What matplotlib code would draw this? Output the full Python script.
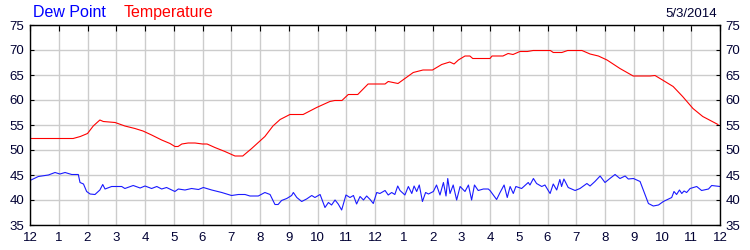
import matplotlib
matplotlib.use('Agg')
import matplotlib.pyplot as plt

# hours since midnight and temperature readings (F)
temp_hours = [0, 1.5, 1.75, 2.0, 2.2, 2.43, 2.55, 2.96, 3.3, 3.65, 3.93, 4.23, 4.58, 4.87,
              5.04, 5.15, 5.28, 5.5, 5.74, 6.0, 6.16, 6.43, 6.78, 7.13, 7.4, 7.71, 8.17,
              8.45, 8.7, 9.04, 9.5, 9.97, 10.43, 10.6, 10.85, 11.07, 11.4, 11.76, 12.35,
              12.46, 12.8, 13.33, 13.67, 14.0, 14.32, 14.6, 14.75, 14.9, 15.13, 15.3, 15.4,
              16.0, 16.07, 16.45, 16.63, 16.8, 17.04, 17.3, 17.5, 18.1, 18.2, 18.5, 18.7,
              19.2, 19.48, 19.77, 20.07, 20.52, 20.98, 21.57, 21.74, 22.0, 22.37, 22.7,
              23.06, 23.4, 23.93]
temp_vals = [52.3, 52.3, 52.7, 53.3, 54.8, 56.0, 55.7, 55.5, 54.8, 54.3, 53.8, 53.0, 52.0, 51.3,
             50.7, 50.7, 51.2, 51.4, 51.4, 51.2, 51.2, 50.5, 49.7, 48.8, 48.8, 50.3, 52.7,
             54.8, 56.1, 57.1, 57.1, 58.5, 59.7, 59.9, 59.9, 61.1, 61.1, 63.2, 63.2,
             63.7, 63.3, 65.5, 66.0, 66.0, 67.1, 67.6, 67.2, 68.0, 68.8, 68.8, 68.3,
             68.3, 68.8, 68.8, 69.3, 69.1, 69.7, 69.7, 69.9, 69.9, 69.5, 69.5, 69.9,
             69.9, 69.2, 68.8, 68.0, 66.3, 64.8, 64.8, 64.9, 64.0, 62.7, 60.7,
             58.3, 56.7, 55.1]

# dew point readings
dew_hours = [0, 0.29, 0.64, 0.87, 1.04, 1.22, 1.45, 1.68, 1.74, 1.86, 1.97, 2.09, 2.26, 2.43,
             2.53, 2.61, 2.84, 3.19, 3.3, 3.59, 3.83, 4.0, 4.23, 4.41, 4.58, 4.75, 4.93,
             5.04, 5.16, 5.39, 5.62, 5.86, 6.03, 6.32, 6.67, 7.01, 7.25, 7.48, 7.65, 7.94,
             8.17, 8.35, 8.52, 8.63, 8.75, 8.93, 9.1, 9.16, 9.28, 9.45, 9.62, 9.8, 9.91,
             10.09, 10.26, 10.38, 10.49, 10.61, 10.72, 10.84, 10.99, 11.13, 11.25, 11.36,
             11.48, 11.6, 11.71, 11.83, 11.94, 12.06, 12.17, 12.35, 12.46, 12.58, 12.69,
             12.79, 12.87, 13.04, 13.16, 13.28, 13.36, 13.45, 13.54, 13.65, 13.76, 13.86,
             14.03, 14.14, 14.26, 14.38, 14.47, 14.53, 14.61, 14.72, 14.84, 14.96, 15.13,
             15.25, 15.36, 15.46, 15.59, 15.77, 15.94, 16.0, 16.23, 16.35, 16.49, 16.6,
             16.7, 16.81, 16.9, 17.1, 17.33, 17.39, 17.51, 17.62, 17.8, 17.91, 18.09,
             18.2, 18.32, 18.43, 18.49, 18.57, 18.72, 18.96, 19.13, 19.37, 19.48, 19.65,
             19.83, 20.0, 20.17, 20.35, 20.52, 20.7, 20.81, 20.99, 21.22, 21.51, 21.68,
             21.86, 22.03, 22.32, 22.4, 22.49, 22.59, 22.67, 22.75, 22.84, 22.96, 23.19,
             23.36, 23.6, 23.71, 24.0]
dew_vals = [43.9, 44.7, 45.0, 45.5, 45.2, 45.5, 45.1, 45.1, 43.5, 43.2, 41.7, 41.2, 41.1, 42.0,
            43.1, 42.2, 42.7, 42.7, 42.3, 42.9, 42.4, 42.8, 42.3, 42.7, 42.2, 42.5, 42.0,
            41.7, 42.2, 42.0, 42.3, 42.1, 42.5, 42.0, 41.5, 40.9, 41.1, 41.1, 40.8, 40.8,
            41.5, 41.1, 39.1, 39.1, 39.9, 40.3, 40.9, 41.5, 40.5, 39.7, 40.2, 40.9, 40.5,
            41.1, 38.5, 39.5, 39.0, 40.0, 39.2, 38.0, 41.0, 40.5, 40.9, 39.2,
            40.7, 40.0, 40.8, 40.1, 39.3, 41.5, 41.3, 41.9, 41.0, 41.5, 41.1,
            42.8, 41.9, 41.0, 42.7, 41.3, 42.8, 41.7, 43.0, 39.7, 41.5, 41.2,
            41.7, 43.0, 41.0, 43.5, 40.8, 44.3, 41.3, 43.0, 40.0, 42.7, 41.7,
            43.0, 40.0, 43.0, 41.9, 42.2, 42.2, 41.9, 40.1, 41.5, 43.0, 40.5,
            42.7, 41.3, 42.7, 42.3, 43.5, 43.0, 44.3, 43.3, 42.7, 43.0, 41.3,
            43.2, 42.0, 44.1, 42.7, 44.2, 42.5, 41.9, 42.3, 43.3, 42.8, 43.7,
            44.8, 43.5, 44.3, 45.1, 44.3, 44.8, 44.2, 44.3, 43.7, 39.3, 38.8,
            39.0, 39.7, 40.5, 41.7, 41.1, 42.0, 41.3, 41.8, 41.5, 42.3, 42.7,
            41.9, 42.2, 42.9, 42.7]

hour_labels = ['12', '1', '2', '3', '4', '5', '6', '7', '8', '9', '10', '11',
               '12', '1', '2', '3', '4', '5', '6', '7', '8', '9', '10', '11', '12']
y_ticks = [35, 40, 45, 50, 55, 60, 65, 70, 75]
date_str = '5/3/2014'

plt.rcParams['font.family'] = ['Liberation Sans', 'DejaVu Sans']
label_col = '#000033'

fig = plt.figure(figsize=(7.5, 2.5), dpi=100)
ax = fig.add_axes([0.04, 0.1, 0.92, 0.8])

ax.plot(temp_hours, temp_vals, color='#ff0000', lw=0.8)
ax.plot(dew_hours, dew_vals, color='#1a1aff', lw=0.8)

ax.set_xlim(0, 24)
ax.set_ylim(35, 75)
ax.set_xticks(range(25))
ax.set_xticklabels(hour_labels)
ax.set_yticks(y_ticks)
ax.grid(True, color='#cccccc', lw=1)
ax.set_axisbelow(True)

ax.tick_params(axis='x', which='both', direction='in', length=4, top=True, bottom=False,
               labelsize=9.5, pad=5, labelcolor=label_col)
ax.tick_params(axis='y', which='both', direction='in', length=3, left=True, right=True,
               labelleft=True, labelright=True, labelsize=9.5, pad=4, labelcolor=label_col)
for s in ax.spines.values():
    s.set_color('black')
    s.set_linewidth(1)

fig.text(33 / 750, 1 - 17 / 250, 'Dew Point', color='#0000ff', fontsize=11.5, va='baseline')
fig.text(124 / 750, 1 - 17 / 250, 'Temperature', color='#ff0000', fontsize=11.5, va='baseline')
fig.text(717 / 750, 1 - 17 / 250, date_str, color=label_col, fontsize=9.5, ha='right', va='baseline')

fig.savefig('out.png', dpi=100)
